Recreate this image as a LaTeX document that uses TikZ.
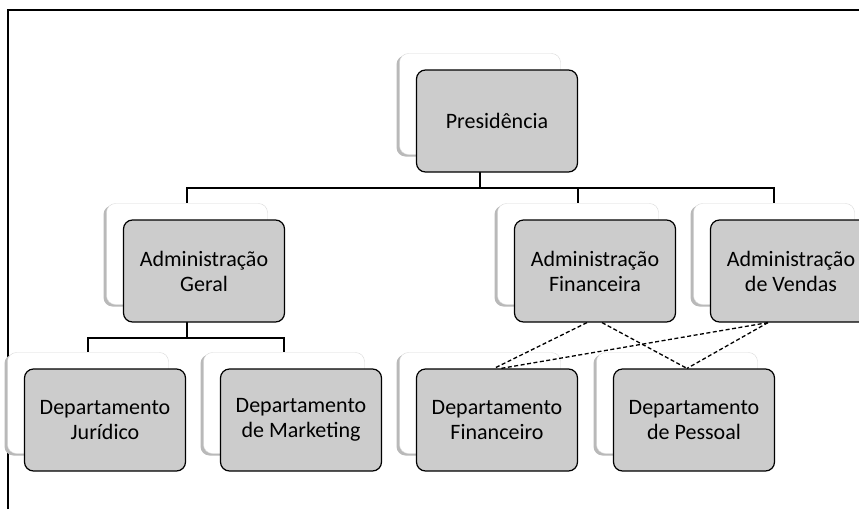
\documentclass[tikz,border=0pt]{standalone}
\usepackage{fontspec}
\setmainfont{Carlito}
\usepackage{tikz}
\usetikzlibrary{shadows}

\begin{document}
\begin{tikzpicture}
		[x=1pt,y=-1pt,
		back node/.style={draw=gray!30,fill=white,rounded corners=9pt,minimum width=161pt,minimum height=101pt,general shadow={fill=gray!55,shadow xshift=-3pt,shadow yshift=-2pt}},
		front node/.style={draw=black,line width=1.2pt,fill=black!20,rounded corners=9pt,minimum width=161pt,minimum height=102pt,align=center,font=\fontsize{22}{25}\selectfont},
		link/.style={line width=1.3pt},
		dashed link/.style={line width=1.3pt,dash pattern=on 4pt off 2.5pt}]
		
		\useasboundingbox (0,0) rectangle (859,509);
		\clip (0,0) rectangle (859,509);
		
		\draw[line width=1.5pt] (8,509) -- (8,10) -- (859,10);
		
		% back boxes
		\node[back node] (p-b) at (480,104) {};
		\node[back node] (ag-b) at (187,254) {};
		\node[back node] (af-b) at (578,254) {};
		\node[back node] (av-b) at (774,254) {};
		\node[back node] (dj-b) at (88,403) {};
		\node[back node] (dm-b) at (284,403) {};
		\node[back node] (df-b) at (480,403) {};
		\node[back node] (dp-b) at (677,403) {};
		
		\coordinate (bus) at (480,188);
		\coordinate (bus ag) at (187,338);
		
		\draw[link] (p-b.south) -- (bus) -| (ag-b.north);
		\draw[link] (bus) -| (af-b.north);
		\draw[link] (bus) -| (av-b.north);
		\draw[link] (ag-b.south) -- (bus ag) -| (dj-b.north);
		\draw[link] (bus ag) -| (dm-b.north);
		
		% front boxes
		\node[front node] (p) at (497,121) {Presidência};
		\node[front node] (ag) at (204,271) {Administração\\Geral};
		\node[front node] (af) at (595,271) {Administração\\Financeira};
		\node[front node] (av) at (791,271) {Administração\\de Vendas};
		\node[front node] (dj) at (105,420) {Departamento\\Jurídico};
		\node[front node] (dm) at (301,420) {Departamento\\de Marketing};
		\node[front node] (df) at (497,420) {Departamento\\Financeiro};
		\node[front node] (dp) at (694,420) {Departamento\\de Pessoal};
		
		\draw[dashed link] ([xshift=-8pt]af.south) -- ([xshift=-3pt]df.north);
		\draw[dashed link] ([xshift=7pt]af.south) -- ([xshift=-7pt]dp.north);
		\draw[dashed link] ([xshift=-23pt]av.south) -- ([xshift=4pt]df.north);
		\draw[dashed link] ([xshift=-23pt]av.south) -- ([xshift=-7pt]dp.north);
		\end{tikzpicture}
\end{document}
